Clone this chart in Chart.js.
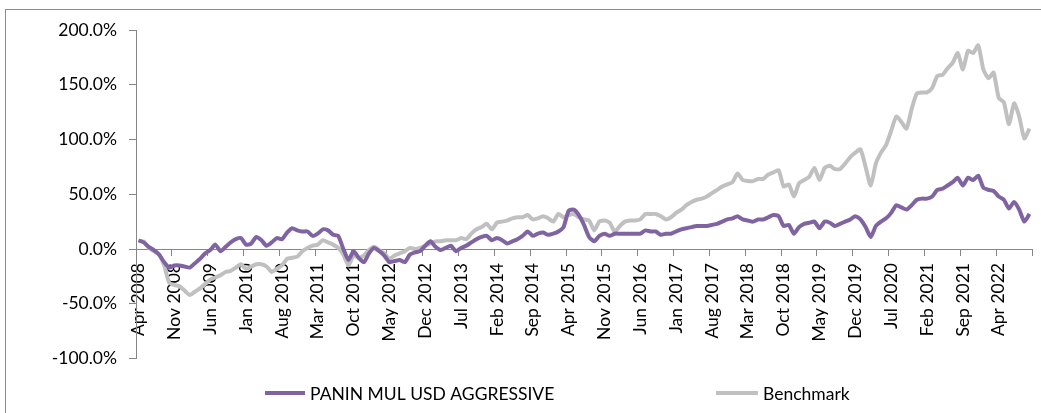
<!DOCTYPE html>
<html>
<head>
<meta charset="utf-8">
<script src="https://cdn.jsdelivr.net/npm/chart.js@4/dist/chart.umd.min.js"></script>
<style>
  html, body { margin: 0; padding: 0; background: #fff; overflow: hidden; }
  #frame { position: absolute; left: 5px; top: 9px; width: 1100px; height: 500px; border: 1px solid #8c8c8c; }
  #wrap { position: absolute; left: 0; top: 0; width: 1041px; height: 413px; }
</style>
</head>
<body>
<div id="frame"></div>
<div id="wrap"><canvas id="myChart"></canvas></div>
<script>
// monthly categories, Apr 2008 .. Oct 2022
let monthNames = ['Jan', 'Feb', 'Mar', 'Apr', 'May', 'Jun', 'Jul', 'Aug', 'Sep', 'Oct', 'Nov', 'Dec'];
let labels = [];
for (let i = 0; i < 175; i++) {
  labels.push(monthNames[(3 + i) % 12] + ' ' + (2008 + Math.floor((3 + i) / 12)));
}

let seriesNames = ['PANIN MUL USD AGGRESSIVE', 'Benchmark'];

// cumulative return, %
let fund = [
  8, 6, 2, -1, -5, -12, -17, -15, -15, -16, -17, -13, -9, -4, -1, 4, -2, 2, 6, 9,
  10, 4, 5, 11, 8, 3, 6, 10, 9, 15, 19, 17, 16, 16, 12, 14, 18, 17, 13, 12,
  0, -10, -2, -8, -12, -4, 1, -2, -6, -12, -11, -10, -12, -5, -3, -2, 3, 7, 2, -1,
  1, 3, -2, 1, 3, 6, 9, 11, 12, 8, 10, 8, 5, 7, 9, 12, 16, 12, 14, 15,
  13, 14, 16, 20, 35, 36, 31, 22, 11, 7, 12, 14, 12, 14, 14, 14, 14, 14, 14, 17,
  16, 16, 13, 14, 14, 16, 18, 19, 20, 21, 21, 21, 22, 23, 25, 27, 28, 30, 27, 26,
  25, 27, 27, 29, 31, 30, 21, 22, 14, 20, 23, 24, 25, 19, 25, 24, 21, 23, 25, 27,
  30, 27, 20, 11, 21, 25, 28, 33, 40, 38, 36, 40, 45, 46, 46, 48, 54, 55, 58, 61,
  65, 58, 65, 63, 67, 56, 54, 53, 48, 45, 37, 43, 36, 25, 32
];

let benchmark = [
  7, 7, 1, -2, -5, -15, -31, -33, -34, -38, -42, -39, -36, -32, -28, -26, -24, -21, -20, -17,
  -14, -18, -16, -14, -14, -16, -21, -18, -15, -9, -8, -7, -2, 1, 3, 4, 8, 6, 4, 1,
  -5, -15, -6, -8, -6, -1, 2, -1, -4, -9, -6, -4, -2, 1, 0, 1, 3, 5, 7, 7,
  8, 8, 8, 10, 9, 14, 18, 20, 23, 18, 24, 25, 26, 28, 29, 29, 31, 27, 28, 30,
  28, 25, 32, 29, 31, 32, 29, 27, 26, 17, 25, 26, 24, 16, 21, 25, 26, 26, 27, 32,
  32, 32, 30, 27, 29, 33, 36, 40, 43, 45, 46, 48, 51, 54, 57, 59, 61, 69, 63, 62,
  62, 64, 64, 68, 70, 72, 57, 59, 48, 60, 63, 66, 74, 63, 74, 76, 73, 73, 78, 84,
  88, 91, 75, 58, 78, 88, 95, 108, 121, 116, 110, 128, 142, 143, 143, 147, 158, 159, 165, 170,
  179, 164, 181, 179, 186, 164, 156, 161, 138, 134, 114, 133, 121, 101, 110
];

let colors = ['#8064A2', '#C0C0C0'];
let axisColor = '#868686';
let fontFamily = 'Lato, "Open Sans", sans-serif';
let fontSize = 17.5;

// legend drawn by hand so the two entries sit where the original puts them
let legendPlugin = {
  id: 'lineLegend',
  afterDraw(chart) {
    let ctx = chart.ctx;
    let slots = [[265, 305], [716, 758]];
    ctx.save();
    ctx.font = fontSize + 'px ' + fontFamily;
    ctx.textBaseline = 'middle';
    ctx.fillStyle = '#000';
    chart.data.datasets.forEach(function(ds, i) {
      let y = 393;
      ctx.strokeStyle = ds.borderColor;
      ctx.lineWidth = 4;
      ctx.beginPath();
      ctx.moveTo(slots[i][0], y);
      ctx.lineTo(slots[i][1], y);
      ctx.stroke();
      ctx.fillText(ds.label, slots[i][1] + 5, y + 1);
    });
    ctx.restore();
  }
};

let ctx1 = document.getElementById('myChart').getContext('2d');

let chart1 = new Chart(ctx1, {
  type: 'line',
  data: {
    labels: labels,
    datasets: [{
      label: seriesNames[0],
      data: fund,
      borderColor: colors[0],
      backgroundColor: colors[0],
      borderWidth: 4,
      pointRadius: 0,
      tension: 0.2,
      fill: false
    }, {
      label: seriesNames[1],
      data: benchmark,
      borderColor: colors[1],
      backgroundColor: colors[1],
      borderWidth: 4,
      pointRadius: 0,
      tension: 0.2,
      fill: false
    }]
  },
  options: {
    responsive: true,
    maintainAspectRatio: false,
    animation: false,
    layout: { padding: { left: 0, right: 9, top: 30, bottom: 54.5 } },
    plugins: {
      legend: { display: false },
      tooltip: { enabled: false }
    },
    scales: {
      x: {
        type: 'category',
        position: { y: 0 },
        offset: true,
        afterFit: function(s) { s.paddingLeft = 0; s.paddingRight = 0; },
        grid: {
          offset: true,
          drawOnChartArea: false,
          tickLength: 6,
          color: function(c) {
            return (c.index === undefined || c.index % 7 === 0) ? axisColor : 'rgba(0,0,0,0)';
          }
        },
        border: { color: axisColor, width: 1 },
        ticks: {
          autoSkip: false,
          minRotation: 90,
          maxRotation: 90,
          padding: 8,
          color: '#000',
          font: { family: fontFamily, size: fontSize },
          callback: function(val, index) {
            return index % 7 === 0 ? this.getLabelForValue(val) : '';
          }
        }
      },
      y: {
        min: -100,
        max: 200,
        afterFit: function(s) { s.width = 136; },
        grid: { drawOnChartArea: false, tickLength: 7, color: axisColor },
        border: { color: axisColor, width: 1 },
        ticks: {
          stepSize: 50,
          padding: 12,
          color: '#000',
          font: { family: fontFamily, size: fontSize },
          callback: function(v) { return v.toFixed(1) + '%'; }
        }
      }
    }
  },
  plugins: [legendPlugin]
});
</script>
</body>
</html>
